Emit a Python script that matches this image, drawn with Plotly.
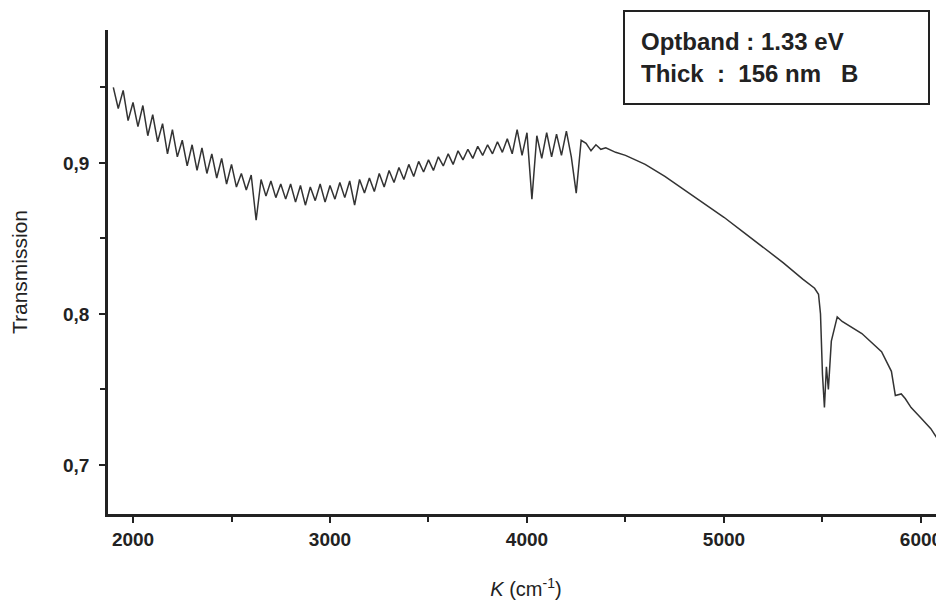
import plotly.graph_objects as go

wavenumber = [
    1900, 1925, 1950, 1975, 2000, 2025, 2050, 2075, 2100, 2125, 2150, 2175,
    2200, 2225, 2250, 2275, 2300, 2325, 2350, 2375, 2400, 2425, 2450, 2475,
    2500, 2525, 2550, 2575, 2600, 2625, 2650, 2675, 2700, 2725, 2750, 2775,
    2800, 2825, 2850, 2875, 2900, 2925, 2950, 2975, 3000, 3025, 3050, 3075,
    3100, 3125, 3150, 3175, 3200, 3225, 3250, 3275, 3300, 3325, 3350, 3375,
    3400, 3425, 3450, 3475, 3500, 3525, 3550, 3575, 3600, 3625, 3650, 3675,
    3700, 3725, 3750, 3775, 3800, 3825, 3850, 3875, 3900, 3925, 3950, 3975,
    4000, 4025, 4050, 4075, 4100, 4125, 4150, 4175, 4200, 4225, 4250, 4275,
    4300, 4325, 4350, 4375, 4400, 4450, 4500, 4600, 4700, 4800, 4900, 5000,
    5100, 5200, 5300, 5400, 5460, 5480, 5490, 5500, 5510, 5520, 5530, 5545,
    5560, 5575, 5600, 5700, 5800, 5850, 5870, 5900, 5920, 5950, 6000, 6050,
    6080, 6100, 6110, 6120, 6130, 6140,
]

transmission = [
    0.950, 0.936, 0.948, 0.928, 0.940, 0.924, 0.938, 0.918, 0.932, 0.914, 0.926, 0.906,
    0.922, 0.904, 0.915, 0.898, 0.912, 0.895, 0.910, 0.893, 0.906, 0.890, 0.903, 0.886,
    0.899, 0.884, 0.893, 0.882, 0.892, 0.862, 0.889, 0.878, 0.888, 0.877, 0.886, 0.876,
    0.886, 0.874, 0.885, 0.872, 0.884, 0.875, 0.886, 0.874, 0.885, 0.876, 0.887, 0.877,
    0.888, 0.872, 0.889, 0.880, 0.890, 0.881, 0.893, 0.884, 0.895, 0.887, 0.897, 0.889,
    0.899, 0.891, 0.901, 0.894, 0.902, 0.895, 0.904, 0.898, 0.906, 0.899, 0.908, 0.902,
    0.909, 0.903, 0.911, 0.905, 0.912, 0.906, 0.914, 0.907, 0.916, 0.906, 0.922, 0.905,
    0.920, 0.876, 0.918, 0.903, 0.920, 0.904, 0.919, 0.905, 0.921, 0.904, 0.880, 0.915,
    0.913, 0.908, 0.912, 0.909, 0.910, 0.907, 0.905, 0.899, 0.891, 0.882, 0.873, 0.864,
    0.854, 0.844, 0.834, 0.823, 0.817, 0.813, 0.800, 0.760, 0.738, 0.765, 0.750, 0.782,
    0.790, 0.798, 0.795, 0.787, 0.775, 0.762, 0.746, 0.747, 0.744, 0.738, 0.731, 0.724,
    0.718, 0.720, 0.712, 0.716, 0.705, 0.710,
]

y_ticks = [0.7, 0.8, 0.9]
y_minor = [0.75, 0.85, 0.95]
x_ticks = [2000, 3000, 4000, 5000, 6000]
x_minor = [2500, 3500, 4500, 5500]

fig = go.Figure()
fig.add_trace(go.Scatter(
    x=wavenumber, y=transmission, mode="lines",
    line=dict(color="#333333", width=1.5), showlegend=False,
))

fam = "Liberation Sans, Arial, sans-serif"
axis_font = dict(family=fam, size=19, color="#222", weight="bold")

L, T, R, B = 100, 22, 8, 107
plot_w = 944 - L - R
plot_h = 613 - T - B

fig.update_layout(
    width=944, height=613,
    paper_bgcolor="white", plot_bgcolor="white",
    margin=dict(l=L, r=R, t=T, b=B),
    separators=", ",
    xaxis=dict(
        range=[1873, 6117], tickvals=x_ticks, ticks="outside", ticklen=6,
        tickwidth=2, tickcolor="#222", showline=True, linecolor="#222", linewidth=2.5,
        showgrid=False, zeroline=False, tickfont=axis_font, automargin=False,
        minor=dict(tickvals=x_minor, ticks="outside", ticklen=5,
                   tickwidth=2, tickcolor="#222"),
        title=dict(text="<i>K</i> (cm<sup>-1</sup>)", font=dict(family=fam, size=20, color="#222"), standoff=34),
    ),
    yaxis=dict(
        range=[0.6675, 0.988], tickvals=y_ticks, tickformat=".1f", ticks="outside",
        ticklen=6, tickwidth=2, tickcolor="#222", showline=True, linecolor="#222",
        linewidth=2.5, showgrid=False, zeroline=False, tickfont=axis_font, automargin=False,
        ticklabelstandoff=6,
        minor=dict(tickvals=y_minor, ticks="outside", ticklen=5,
                   tickwidth=2, tickcolor="#222"),
        title=dict(text="Transmission", font=dict(family=fam, size=21, color="#222"), standoff=34),
    ),
    annotations=[dict(
        xref="paper", yref="paper",
        x=(922 - L) / plot_w, y=1 + (T - 2) / plot_h,
        xanchor="right", yanchor="top",
        text="Optband : 1.33 eV<br>Thick  :  156 nm   B", align="left", showarrow=False,
        font=dict(family=fam, size=24, color="#222", weight="bold"),
        bordercolor="#222", borderwidth=2, borderpad=16, bgcolor="white",
        width=271, height=59,
    )],
)

fig.write_html("out.html")
